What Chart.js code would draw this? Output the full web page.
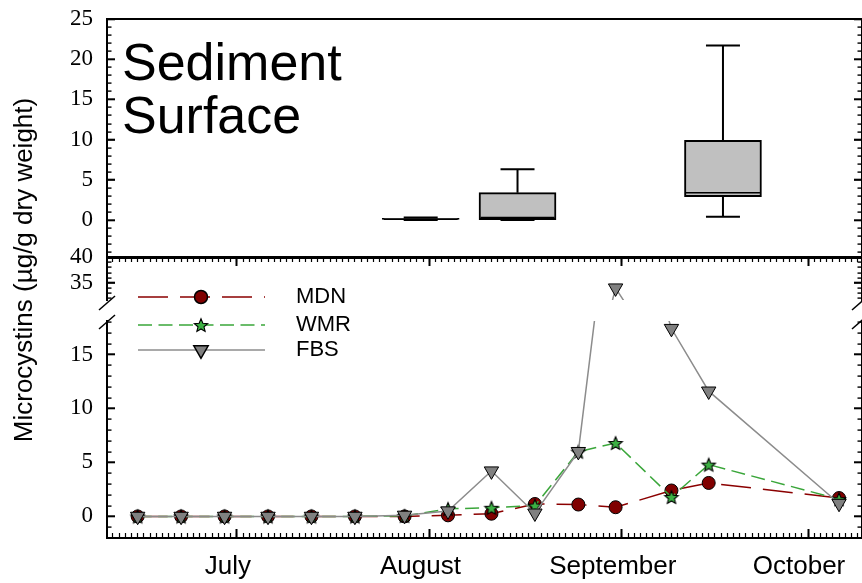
<!DOCTYPE html>
<html>
<head>
<meta charset="utf-8">
<script src="https://cdn.jsdelivr.net/npm/chart.js@4.4.1/dist/chart.umd.min.js"></script>
<style>
  html, body { margin: 0; padding: 0; background: #fff; }
  #wrap { position: relative; width: 862px; height: 583px; }
  #wrap canvas { position: absolute; left: 0; top: 0; }
</style>
</head>
<body>
<div id="wrap">
  <canvas id="topChart" width="862" height="583"></canvas>
  <canvas id="upperChart" width="862" height="583"></canvas>
  <canvas id="lowerChart" width="862" height="583"></canvas>
</div>
<script>
// sampling dates, as day of year (Jul 1 = 182)
const sampleDays = [166, 173, 180, 187, 194, 201, 209, 216, 223, 230, 237, 243, 252, 258, 279];
const mdn = [0, 0, 0, 0, 0, 0, 0, 0.1, 0.25, 1.15, 1.1, 0.85, 2.4, 3.1, 1.7];
const wmr = [0, 0, 0, 0, 0, 0, 0.05, 0.7, 0.8, 1.0, 6.0, 6.8, 1.8, 4.8, 1.6];
const fbs = [0, 0, 0, 0, 0, 0, 0.1, 0.5, 4.2, 0.3, 6.0, 34.0, 17.4, 11.6, 1.2];

// sediment surface box plots
const boxDays = [211.6, 227.2, 260.3];
const boxMin = [0, 0, 0.4];
const boxQ1 = [0, 0.05, 2.9];
const boxMedian = [0.1, 0.3, 3.4];
const boxQ3 = [0.2, 3.4, 9.9];
const boxMax = [0.3, 6.3, 21.7];

const monthDays = [182, 213, 244, 274];
const monthLabels = ['July', 'August', 'September', 'October'];
const dayRange = [161.06, 282.7];

const topRange = [-4.6, 25];
const topTicks = [0, 5, 10, 15, 20, 25];
const upperRange = [31.7, 40];
const upperTicks = [35, 40];
const lowerRange = [-2, 18.1];
const lowerTicks = [0, 5, 10, 15];

const panelTitle = ['Sediment', 'Surface'];
const yTitle = 'Microcystins (\u00b5g/g dry weight)';

const black = '#000';
const sans = '"Liberation Sans", Arial, sans-serif';

function makeStar(r, fill) {
    const cv = document.createElement('canvas');
    const s = Math.ceil(r * 2 + 4);
    cv.width = s;
    cv.height = s;
    const g = cv.getContext('2d');
    g.translate(s / 2, s / 2 + 0.8);
    g.beginPath();
    for (let i = 0; i < 10; i++) {
        const rr = i % 2 ? r * 0.45 : r;
        const a = -Math.PI / 2 + i * Math.PI / 5;
        g.lineTo(rr * Math.cos(a), rr * Math.sin(a));
    }
    g.closePath();
    g.fillStyle = fill;
    g.fill();
    g.lineWidth = 1.1;
    g.strokeStyle = black;
    g.stroke();
    return cv;
}
const starImg = makeStar(7, '#3cb043');

function intTicks(scale) {
    const out = [];
    for (let v = Math.ceil(scale.min); v <= Math.floor(scale.max); v++) {
        out.push({ value: v });
    }
    scale.ticks = out;
}

function fixedTicks(values) {
    return function (scale) {
        scale.ticks = values.map(v => ({ value: v }));
    };
}

function fitSize(size) {
    return function (scale) {
        if (scale.isHorizontal()) {
            scale.height = size;
        } else {
            scale.width = size;
        }
        scale.paddingTop = scale.paddingBottom = scale.paddingLeft = scale.paddingRight = 0;
    };
}

// inward tick marks on both value axes: every unit short, majors long
function drawValueTicks(chart, majors) {
    const { ctx, chartArea } = chart;
    const s = chart.scales.y;
    ctx.save();
    ctx.setTransform(1, 0, 0, 1, 0, 0);
    ctx.globalAlpha = 1;
    ctx.globalCompositeOperation = 'source-over';
    ctx.fillStyle = black;
    for (let v = Math.ceil(s.min); v <= Math.floor(s.max); v++) {
        const len = majors.indexOf(v) >= 0 ? 8 : 4.5;
        const py = Math.round(s.getPixelForValue(v));
        ctx.fillRect(chartArea.left, py - 0.6, len, 1.4);
        ctx.fillRect(chartArea.right - len, py - 0.6, len, 1.4);
    }
    ctx.restore();
}

function yScales(range, majors) {
    const base = { type: 'linear', min: range[0], max: range[1], bounds: 'data' };
    return {
        y: { ...base, position: 'left', weight: 1, afterBuildTicks: fixedTicks(majors), afterFit: fitSize(107),
            grid: { drawOnChartArea: false, tickLength: -8, tickColor: black, tickWidth: 1.6 },
            border: { color: black, width: 2 },
            ticks: { color: black, font: { family: '"Liberation Serif", serif', size: 23 }, padding: 22, autoSkip: false } },
        yRight: { ...base, position: 'right', weight: 1, afterBuildTicks: fixedTicks(majors), afterFit: fitSize(0),
            grid: { drawOnChartArea: false, tickLength: -8, tickColor: black, tickWidth: 1.6 },
            border: { color: black, width: 2 }, ticks: { display: false } }
    };
}

function xScales(position, borderWidth, withLabels) {
    const base = { type: 'linear', min: dayRange[0], max: dayRange[1], bounds: 'data', offset: false, position: position };
    return {
        x: { ...base, weight: 0, afterBuildTicks: intTicks, afterFit: fitSize(0),
            grid: { drawOnChartArea: false, tickLength: -5, tickColor: black, tickWidth: 1.2 },
            border: { color: black, width: borderWidth }, ticks: { display: false } },
        xMonths: { ...base, weight: 1, afterBuildTicks: fixedTicks(monthDays), afterFit: fitSize(withLabels ? 45 : 0),
            grid: { drawOnChartArea: false, tickLength: -9, tickColor: black, tickWidth: 2 },
            border: { display: false },
            ticks: {
                display: withLabels, autoSkip: false, maxRotation: 0, padding: 22, labelOffset: -9,
                color: black, font: { family: sans, size: 26 },
                callback: (v) => monthLabels[monthDays.indexOf(v)]
            } }
    };
}

function xy(vals) {
    return sampleDays.map((d, i) => ({ x: d, y: vals[i] }));
}

function seriesSets() {
    return [
        { label: 'MDN', data: xy(mdn), order: 2, borderColor: '#8b0000', borderWidth: 1.5, borderDash: [30, 12],
            pointStyle: 'circle', pointRadius: 6.5, pointBackgroundColor: '#800000', pointBorderColor: black, pointBorderWidth: 1 },
        { label: 'WMR', data: xy(wmr), order: 1, borderColor: '#3aa63a', borderWidth: 1.5, borderDash: [14, 6.5],
            pointStyle: starImg, pointRadius: 6, pointBackgroundColor: '#3cb043', pointBorderColor: black, pointBorderWidth: 1 },
        { label: 'FBS', data: xy(fbs), order: 0, borderColor: '#8c8c8c', borderWidth: 1.5,
            pointStyle: 'triangle', pointRotation: 180, pointRadius: 8.3, pointBackgroundColor: '#808080', pointBorderColor: black, pointBorderWidth: 1 }
    ].map(ds => Object.assign(ds, { xAxisID: 'x', yAxisID: 'y', fill: false, tension: 0 }));
}

function baseOptions() {
    return {
        responsive: false,
        devicePixelRatio: 1,
        animation: false,
        events: [],
        plugins: { legend: { display: false }, tooltip: { enabled: false } }
    };
}

// ---- top panel: box plots ----
const topDecor = {
    id: 'topDecor',
    afterDatasetsDraw(chart) {
        const { ctx, scales: { x, y } } = chart;
        ctx.save();
        ctx.strokeStyle = black;
        boxDays.forEach((d, i) => {
            const px = x.getPixelForValue(d);
            const hi = y.getPixelForValue(boxMax[i]);
            const lo = y.getPixelForValue(boxMin[i]);
            ctx.lineWidth = 2;
            ctx.beginPath();
            ctx.moveTo(px, y.getPixelForValue(boxQ3[i]));
            ctx.lineTo(px, hi);
            ctx.moveTo(px - 17, hi);
            ctx.lineTo(px + 17, hi);
            ctx.moveTo(px, y.getPixelForValue(boxQ1[i]));
            ctx.lineTo(px, lo);
            ctx.moveTo(px - 17, lo);
            ctx.lineTo(px + 17, lo);
            ctx.stroke();
            const med = y.getPixelForValue(boxMedian[i]);
            ctx.lineWidth = 1.5;
            ctx.beginPath();
            ctx.moveTo(px - 37, med);
            ctx.lineTo(px + 37, med);
            ctx.stroke();
        });
        ctx.restore();
    },
    afterDraw(chart) {
        const ctx = chart.ctx;
        ctx.save();
        ctx.fillStyle = black;
        ctx.textBaseline = 'alphabetic';
        ctx.font = '52px ' + sans;
        ctx.fillText(panelTitle[0], 122, 80);
        ctx.fillText(panelTitle[1], 122, 133);
        ctx.font = '26px ' + sans;
        ctx.translate(32, 270);
        ctx.rotate(-Math.PI / 2);
        ctx.textAlign = 'center';
        ctx.fillText(yTitle, 0, 0);
        ctx.restore();
        drawValueTicks(chart, topTicks);
    }
};

new Chart(document.getElementById('topChart'), {
    type: 'bar',
    data: {
        datasets: [{
            data: boxDays.map((d, i) => ({ x: d, y: [boxQ1[i], boxQ3[i]] })),
            backgroundColor: '#c0c0c0',
            borderColor: black,
            borderWidth: 2,
            borderSkipped: false,
            barThickness: 77,
            xAxisID: 'x',
            yAxisID: 'y'
        }]
    },
    options: {
        ...baseOptions(),
        layout: { autoPadding: false, padding: { left: 0, right: 0, top: 19, bottom: 326 } },
        scales: {
            x: { type: 'linear', min: dayRange[0], max: dayRange[1], bounds: 'data', offset: false, display: false, grid: { offset: false } },
            xTop: { type: 'linear', position: 'top', min: dayRange[0], max: dayRange[1], bounds: 'data', offset: false,
                afterFit: fitSize(0), grid: { drawOnChartArea: false, drawTicks: false },
                border: { color: black, width: 2 }, ticks: { display: false } },
            ...yScales(topRange, topTicks)
        }
    },
    plugins: [topDecor]
});

// ---- bottom panel, broken axis ----
function breakMarks(edge, majors) {
    return {
        id: 'breakMarks',
        afterDraw(chart) {
            const { ctx, chartArea } = chart;
            const y = edge === 'bottom' ? chartArea.bottom + 3 : chartArea.top + 1;
            ctx.save();
            ctx.strokeStyle = black;
            ctx.lineWidth = 1.5;
            [chartArea.left, chartArea.right - 2].forEach(x => {
                ctx.beginPath();
                ctx.moveTo(x - 8, y + 7);
                ctx.lineTo(x + 8, y - 7);
                ctx.stroke();
            });
            ctx.restore();
            drawValueTicks(chart, majors);
        }
    };
}

const legendRows = [297, 325, 350];
const lineLegend = {
    id: 'lineLegend',
    afterDraw(chart) {
        const ctx = chart.ctx;
        const sets = chart.data.datasets;
        ctx.save();
        sets.forEach((ds, row) => {
            const y = legendRows[row];
            ctx.strokeStyle = ds.borderColor;
            ctx.lineWidth = ds.borderWidth;
            ctx.setLineDash(ds.borderDash || []);
            ctx.beginPath();
            ctx.moveTo(138, y);
            ctx.lineTo(265, y);
            ctx.stroke();
            ctx.setLineDash([]);
            ctx.fillStyle = ds.pointBackgroundColor;
            ctx.strokeStyle = ds.pointBorderColor;
            Chart.helpers.drawPoint(ctx, {
                pointStyle: ds.pointStyle,
                rotation: ds.pointRotation || 0,
                radius: ds.pointRadius,
                borderWidth: ds.pointBorderWidth
            }, 201, y);
            ctx.fillStyle = black;
            ctx.font = '22px ' + sans;
            ctx.textBaseline = 'middle';
            ctx.fillText(ds.label, 296, y);
        });
        ctx.restore();
    }
};

new Chart(document.getElementById('upperChart'), {
    type: 'line',
    data: { datasets: seriesSets() },
    options: {
        ...baseOptions(),
        layout: { autoPadding: false, padding: { left: 0, right: 0, top: 257, bottom: 283 } },
        scales: { ...xScales('top', 3, false), ...yScales(upperRange, upperTicks) }
    },
    plugins: [breakMarks('bottom', upperTicks)]
});

new Chart(document.getElementById('lowerChart'), {
    type: 'line',
    data: { datasets: seriesSets() },
    options: {
        ...baseOptions(),
        layout: { autoPadding: false, padding: { left: 0, right: 0, top: 321, bottom: 0 } },
        scales: { ...xScales('bottom', 2, true), ...yScales(lowerRange, lowerTicks) }
    },
    plugins: [breakMarks('top', lowerTicks), lineLegend]
});
</script>
</body>
</html>
